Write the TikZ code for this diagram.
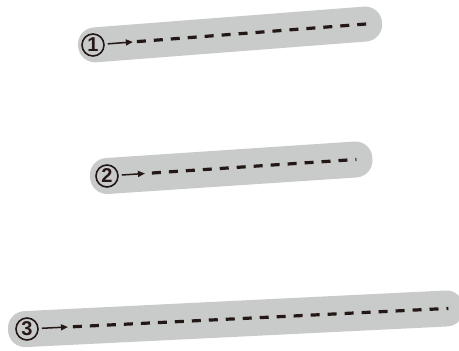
\documentclass[tikz,border=0pt]{standalone}
\usepackage{fontspec}
\newfontfamily\digitfont{Liberation Sans}
\usetikzlibrary{arrows.meta}
\definecolor{bargray}{HTML}{C9CACA}
\definecolor{inkdark}{HTML}{231815}

\begin{document}
\begin{tikzpicture}[x=1pt, y=-1pt, >={Triangle[length=7pt,width=6pt]},
  bar/.style={fill=bargray, rounded corners=17pt},
  num/.style={circle, draw=inkdark, line width=1.6pt, minimum size=22pt, inner sep=0pt,
    text=inkdark, font=\digitfont\bfseries\fontsize{20}{20}\selectfont},
  arr/.style={->, draw=inkdark, line width=1.5pt, shorten <=3pt},
  dashline/.style={draw=inkdark, line width=3.2pt, dash pattern=on 9pt off 8pt}]
  \useasboundingbox (0,0) rectangle (459,351);

  \begin{scope}[shift={(93,45)}, rotate=4.4]
    \fill[bar] (-15,-17.5) rectangle (290,17.5);
    \node[num] (n1) at (0,0) {1};
    \coordinate (a1) at (40,0);
    \coordinate (d1) at (44,0);
    \coordinate (e1) at (274,0);
    \draw[arr] (n1) -- (a1);
    \draw[dashline] (d1) -- (e1);
  \end{scope}

  \begin{scope}[shift={(107,176)}, rotate=3.8]
    \fill[bar] (-17,-18) rectangle (266,18);
    \node[num] (n2) at (0,0) {2};
    \coordinate (a2) at (38,0);
    \coordinate (d2) at (45,0);
    \coordinate (e2) at (250,0);
    \draw[arr] (n2) -- (a2);
    \draw[dashline] (d2) -- (e2);
  \end{scope}

  \begin{scope}[shift={(27,329)}, rotate=2.8]
    \fill[bar] (-19,-18) rectangle (437,18);
    \node[num] (n3) at (0,0) {3};
    \coordinate (a3) at (41,0);
    \coordinate (d3) at (46,0);
    \coordinate (e3) at (422,0);
    \draw[arr] (n3) -- (a3);
    \draw[dashline] (d3) -- (e3);
  \end{scope}
\end{tikzpicture}
\end{document}
